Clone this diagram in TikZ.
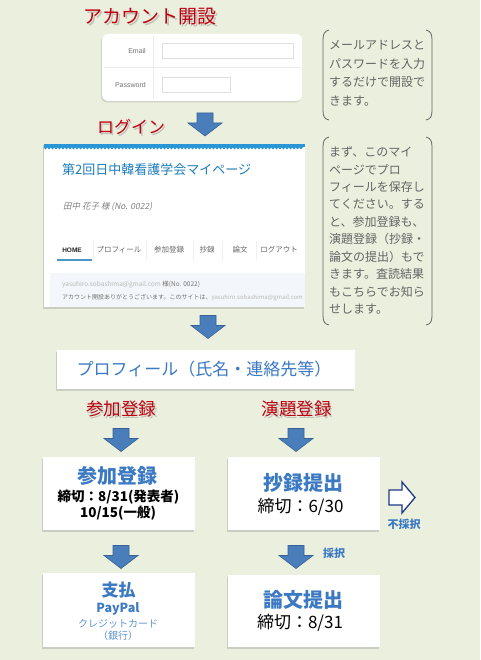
\documentclass[tikz,border=0pt]{standalone}
\usepackage{fontspec}
\setmainfont{Noto Sans CJK JP}
\newfontfamily\slantjp[FakeSlant=0.2]{Noto Sans CJK JP}
\newfontfamily\uisans{Liberation Sans}
\usetikzlibrary{shadows}
\definecolor{bg}{RGB}{235,239,222}
\definecolor{headred}{RGB}{192,0,16}
\definecolor{txtblue}{RGB}{59,121,195}
\definecolor{arrblue}{RGB}{74,126,187}
\definecolor{arredge}{RGB}{56,98,150}
\definecolor{notegray}{RGB}{100,100,100}
\definecolor{titleblue}{RGB}{28,124,185}
\definecolor{scallop}{RGB}{40,150,215}
\definecolor{navy}{RGB}{31,56,130}
\definecolor{shotgray}{RGB}{243,246,250}
\tikzset{
  card/.style={fill=white, draw=none, inner sep=0,
    drop shadow={shadow xshift=-1.5pt, shadow yshift=-1.5pt, opacity=0.3, fill=black!50}},
  formcard/.style={fill=white, draw=none, inner sep=0, rounded corners=6,
    drop shadow={shadow xshift=-1pt, shadow yshift=-1.5pt, opacity=0.25, fill=black!50}},
  heading/.style={text=headred, inner sep=0},
  headshadow/.style={text=black!45, opacity=0.45, inner sep=0},
  notetext/.style={anchor=north west, align=left, text=notegray, inner sep=0},
  bracket/.style={draw=notegray, line width=0.8},
  field/.style={draw=black!12, fill=white, inner sep=0},
  bigblue/.style={text=txtblue, font=\bfseries\fontsize{20}{22}\selectfont, inner sep=0},
  deadline/.style={text=black, inner sep=0},
  smallblue/.style={text=txtblue, font=\bfseries\fontsize{11}{12}\selectfont, inner sep=0},
  tab/.style={text=black!60, font=\fontsize{7.5}{8}\selectfont, inner sep=0},
  darrow/.pic={\path[fill=arrblue, draw=arredge, line width=0.6]
     (-8,-11.5) -- (8,-11.5) -- (8,-1.5) -- (17,-1.5) -- (0,11.5) -- (-17,-1.5) -- (-8,-1.5) -- cycle;}
}
\begin{document}
\begin{tikzpicture}[x=1pt,y=-1pt]
\fill[bg] (0,0) rectangle (480,660);
\useasboundingbox (0,0) rectangle (480,660);

% ---- account creation ----
\node[headshadow, font=\fontsize{19}{21}\selectfont] (h1s) at (151.5,18.5) {アカウント開設};
\node[heading, font=\fontsize{19}{21}\selectfont] (h1) at (150,17) {アカウント開設};

\node[formcard, minimum width=200, minimum height=67] (login) at (202,67.5) {};
\draw[black!8] (153,36) -- (153,99);
\draw[black!8] (104,67) -- (300,67);
\node[field, minimum width=131, minimum height=15] (email) at (227.5,50.5) {};
\node[field, minimum width=68, minimum height=15] (pw) at (196,84.5) {};
\node[anchor=east, inner sep=0, text=black!55, font=\uisans\fontsize{7}{8}\selectfont] (emaill) at (146,51) {Email};
\node[anchor=east, inner sep=0, text=black!55, font=\uisans\fontsize{7}{8}\selectfont] (pwl) at (146,85) {Password};

% note 1
\draw[bracket] (329,30) .. controls (324,31) and (323,35) .. (323,40) -- (323,110) .. controls (323,116) and (324,119) .. (329,120);
\draw[bracket] (426,30) .. controls (431,31) and (432,35) .. (432,40) -- (432,110) .. controls (432,116) and (431,119) .. (426,120);
\node[notetext, font=\fontsize{12}{18.5}\selectfont] (n1) at (329,40) {メールアドレスと\\パスワードを入力\\するだけで開設で\\きます。};

% ---- login ----
\node[headshadow, font=\fontsize{17}{19}\selectfont] (h2s) at (132.5,128.5) {ログイン};
\node[heading, font=\fontsize{17}{19}\selectfont] (h2) at (131,127) {ログイン};
\pic (a1) at (205,124.5) {darrow};

% screenshot
\node[card, minimum width=261, minimum height=163] (shot) at (174.5,225.5) {};
\fill[scallop] (44,144) rectangle (305,147.5);
\foreach \x in {45.5,49,...,304} \fill[scallop] (\x,147.5) circle (1.8);
\node[anchor=west, text=titleblue, font=\fontsize{13}{15}\selectfont, inner sep=0] (title) at (62,170) {第2回日中韓看護学会マイページ};
\node[anchor=west, text=black!50, font=\slantjp\fontsize{8.5}{10}\selectfont, inner sep=0] (uname) at (63,207) {田中 花子 様 (No. 0022)};
\foreach \x in {93,146,193,222,256} \draw[black!6] (\x,241) -- (\x,260);
\node[tab, text=black!85, font=\bfseries\uisans\fontsize{6.5}{7}\selectfont] (tab1) at (72,250) {HOME};
\node[tab] (tab2) at (119,250) {プロフィール};
\node[tab] (tab3) at (169,250) {参加登録};
\node[tab] (tab4) at (207,250) {抄録};
\node[tab] (tab5) at (240,250) {論文};
\node[tab] (tab6) at (279,250) {ログアウト};
\draw[titleblue!80, line width=1.2] (57,260) -- (92,260);
\fill[shotgray] (50,273) rectangle (305,307);
\begin{scope}
\clip (50,273) rectangle (305,307);
\node[anchor=west, inner sep=0, font=\fontsize{6.5}{7}\selectfont] (msg1) at (62,285) {\textcolor{black!28}{yasuhiro.sobashima@gmail.com} \textcolor{black!55}{様(No. 0022)}};
\node[anchor=west, inner sep=0, font=\fontsize{6}{7}\selectfont] (msg2) at (62,298) {\textcolor{black!55}{アカウント開設ありがとうございます。このサイトは、}\textcolor{black!28}{yasuhiro.sobashima@gmail.com}};
\end{scope}

% note 2
\draw[bracket] (329,137) .. controls (324,138) and (323,142) .. (323,147) -- (323,315) .. controls (323,321) and (324,324) .. (329,325);
\draw[bracket] (426,137) .. controls (431,138) and (432,142) .. (432,147) -- (432,315) .. controls (432,321) and (431,324) .. (426,325);
\node[notetext, font=\fontsize{12}{17.45}\selectfont] (n2) at (329,146.5) {まず、このマイ\\ページでプロ\\フィールを保存し\\てください。する\\と、参加登録も、\\演題登録（抄録・\\論文の提出）もで\\きます。査読結果\\もこちらでお知ら\\せします。};

\pic (a2) at (208,327) {darrow};

% ---- profile ----
\node[card, minimum width=298, minimum height=39] (prof) at (206,369.5) {};
\node[text=txtblue, font=\fontsize{17}{20}\selectfont, inner sep=0] (proft) at (204,369) {プロフィール（氏名・連絡先等）};

\node[headshadow, font=\fontsize{17.5}{19}\selectfont] (h3s) at (122.5,410.5) {参加登録};
\node[heading, font=\fontsize{17.5}{19}\selectfont] (h3) at (121,409) {参加登録};
\node[headshadow, font=\fontsize{17.5}{19}\selectfont] (h4s) at (298,410.5) {演題登録};
\node[heading, font=\fontsize{17.5}{19}\selectfont] (h4) at (296.5,409) {演題登録};

\pic (a3) at (121,440) {darrow};
\pic (a4) at (296,440) {darrow};

% ---- registration boxes ----
\node[card, minimum width=152, minimum height=73] (boxA) at (119,493.5) {};
\node[bigblue] (A1) at (117,476) {参加登録};
\node[deadline, font=\bfseries\fontsize{13.5}{14}\selectfont] (A2) at (118.5,497) {締切：8/31(発表者)};
\node[deadline, font=\bfseries\fontsize{13.5}{14}\selectfont] (A3) at (118,513) {10/15(一般)};

\node[card, minimum width=152, minimum height=73] (boxB) at (304,493.5) {};
\node[bigblue] (B1) at (303.5,483) {抄録提出};
\node[deadline, font=\fontsize{17}{18}\selectfont] (B2) at (300.5,507) {締切：6/30};

\path[fill=white, draw=navy, line width=1.3, line join=miter]
  (389,490) -- (402,490) -- (402,482) -- (415,497.5) -- (402,513) -- (402,505) -- (389,505) -- cycle;
\node[smallblue] (rej) at (404,524) {不採択};

\pic (a5) at (121,557) {darrow};
\pic (a6) at (296,557) {darrow};
\node[smallblue] (acc) at (334,553) {採択};

\node[card, minimum width=152, minimum height=74] (boxC) at (119,610) {};
\node[text=txtblue, font=\bfseries\fontsize{17}{18}\selectfont, inner sep=0] (C1) at (118.5,590) {支払};
\node[text=txtblue, font=\bfseries\fontsize{12.5}{13}\selectfont, inner sep=0] (C2) at (118,609) {PayPal};
\node[text=txtblue!80, font=\fontsize{10}{11}\selectfont, inner sep=0] (C3) at (118,624) {クレジットカード};
\node[text=txtblue!80, font=\fontsize{10}{11}\selectfont, inner sep=0] (C4) at (118,636) {（銀行）};

\node[card, minimum width=152, minimum height=72] (boxD) at (304,611) {};
\node[bigblue] (D1) at (303.5,600) {論文提出};
\node[deadline, font=\fontsize{17}{18}\selectfont] (D2) at (300,623) {締切：8/31};
\end{tikzpicture}
\end{document}
